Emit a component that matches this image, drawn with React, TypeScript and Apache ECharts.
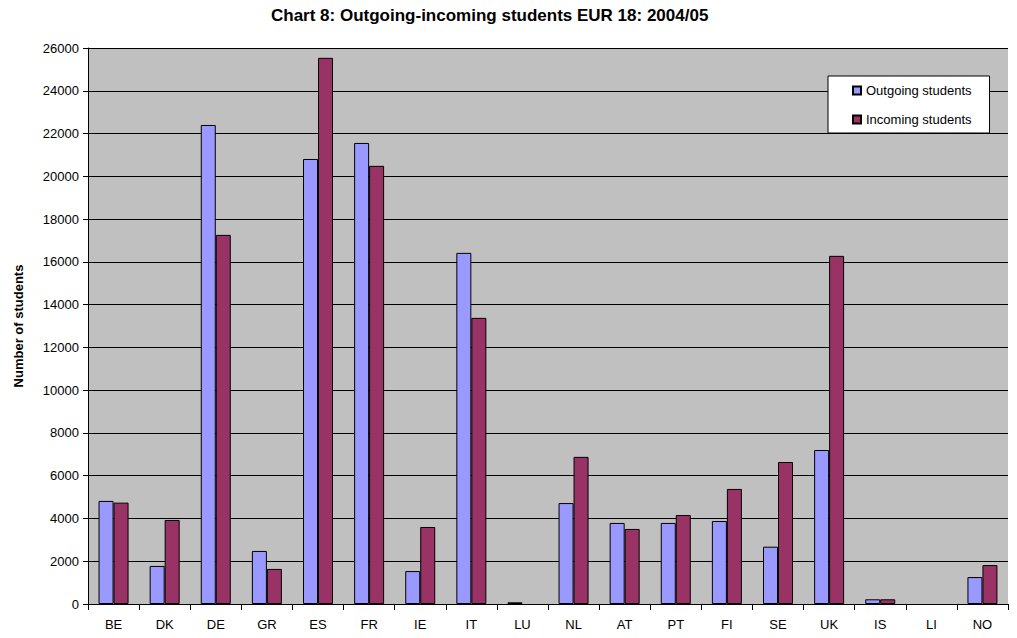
import React, { useEffect, useRef } from "react";
import * as echarts from "echarts";

const categories = ["BE", "DK", "DE", "GR", "ES", "FR", "IE", "IT", "LU", "NL", "AT", "PT", "FI", "SE", "UK", "IS", "LI", "NO"];
const outgoing = [4820, 1780, 22400, 2480, 20810, 21560, 1540, 16420, 80, 4720, 3790, 3790, 3880, 2680, 7200, 220, 0, 1260];
const incoming = [4740, 3930, 17260, 1640, 25540, 20490, 3600, 13380, 0, 6880, 3510, 4160, 5380, 6640, 16280, 220, 0, 1820];
const yTicks = { min: 0, max: 26000, interval: 2000 };

const FONT = "'Liberation Sans', Arial, sans-serif";
const hideZero = (arr: number[]) => arr.map((v) => (v === 0 ? null : v));

export default function App() {
  const ref = useRef<HTMLDivElement>(null);
  useEffect(() => {
    if (!ref.current) return;
    const chart = echarts.init(ref.current, null, { renderer: "svg" });
    chart.setOption({
      animation: false,
      textStyle: { fontFamily: FONT },
      title: {
        text: "Chart 8: Outgoing-incoming students EUR 18: 2004/05",
        left: 266,
        top: 2,
        textStyle: { fontSize: 17, fontWeight: "bold", color: "#000", fontFamily: FONT },
      },
      legend: {
        orient: "vertical",
        left: 828,
        top: 76,
        data: ["Outgoing students", "Incoming students"],
        icon: "rect",
        itemWidth: 8,
        itemHeight: 8,
        itemGap: 16,
        padding: [8, 18, 7, 24],
        backgroundColor: "#fff",
        borderColor: "#000",
        borderWidth: 1,
        textStyle: { fontSize: 13, color: "#000", fontFamily: FONT },
      },
      grid: {
        left: 88,
        right: 9,
        top: 48,
        bottom: 34,
        show: true,
        backgroundColor: "#c0c0c0",
        borderWidth: 0,
      },
      xAxis: {
        type: "category",
        data: categories,
        axisLine: { lineStyle: { color: "#000", width: 1 } },
        axisTick: { show: true, length: 6, lineStyle: { color: "#000" } },
        axisLabel: { color: "#000", fontSize: 13, margin: 14, fontFamily: FONT },
      },
      yAxis: {
        type: "value",
        min: yTicks.min,
        max: yTicks.max,
        interval: yTicks.interval,
        name: "Number of students",
        nameLocation: "middle",
        nameGap: 63,
        nameTextStyle: { fontSize: 13, fontWeight: "bold", color: "#000", fontFamily: FONT },
        axisLine: { show: true, lineStyle: { color: "#000", width: 1 } },
        axisTick: { show: true, length: 5, lineStyle: { color: "#000" } },
        axisLabel: { color: "#000", fontSize: 13, margin: 9, fontFamily: FONT, formatter: (v: number) => String(v) },
        splitLine: { show: true, lineStyle: { color: "#000", width: 1 } },
      },
      series: [
        {
          name: "Outgoing students",
          type: "bar",
          data: hideZero(outgoing),
          barWidth: 15,
          barGap: "0%",
          itemStyle: { color: "#9999ff", borderColor: "#000", borderWidth: 1 },
        },
        {
          name: "Incoming students",
          type: "bar",
          data: hideZero(incoming),
          barWidth: 15,
          barGap: "0%",
          itemStyle: { color: "#993366", borderColor: "#000", borderWidth: 1 },
        },
      ],
    });
    return () => chart.dispose();
  }, []);
  return (
    <div
      ref={ref}
      style={{ position: "fixed", left: 0, top: 0, width: 1017, height: 638, background: "#fff" }}
    />
  );
}
